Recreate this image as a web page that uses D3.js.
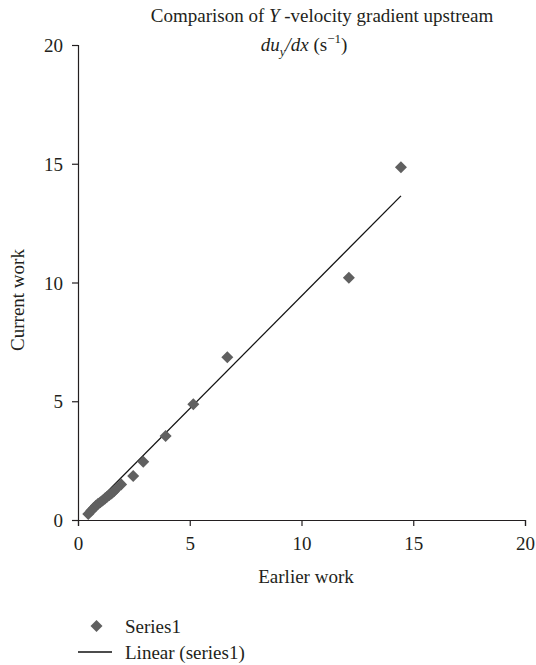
<!DOCTYPE html>
<html><head><meta charset="utf-8">
<script src="https://cdn.jsdelivr.net/npm/d3@7"></script>
<style>
body{margin:0;background:#fff;}
text{font-family:"Liberation Serif","Times New Roman",serif;fill:#231f20;}
</style></head>
<body><svg id="c" width="536" height="665"></svg>
<script>
// Data
const earlierWork = [14.45, 12.12, 6.68, 5.16, 3.92, 2.92, 2.47, 1.93, 1.73, 1.6, 1.5, 1.4, 1.3, 1.2, 1.1, 1.0, 0.9, 0.8, 0.7, 0.6, 0.46];
const currentWork = [14.85, 10.2, 6.85, 4.87, 3.54, 2.45, 1.85, 1.5, 1.33, 1.2, 1.12, 1.05, 0.98, 0.9, 0.82, 0.75, 0.68, 0.6, 0.5, 0.4, 0.25];
// Linear trendline coefficients
const trendSlope = 0.948;
const trendIntercept = -0.05;
const xTicks = [0, 5, 10, 15, 20];
const yTicks = [0, 5, 10, 15, 20];
const legendLabels = ["Series1", "Linear (series1)"];

const svg = d3.select("#c");
const x = d3.scaleLinear().domain([0, 20]).range([78, 525]);
const y = d3.scaleLinear().domain([0, 20]).range([520, 45]);
const markColor = "#606060";

// Axes
const gx = svg.append("g").attr("transform", `translate(0,${y(0)})`)
  .call(d3.axisBottom(x).tickValues(xTicks).tickSizeOuter(0).tickSize(6));
gx.selectAll("text").attr("y", 30).attr("dy", 0).style("font-size", "19px");
const gy = svg.append("g").attr("transform", `translate(${x(0)},0)`)
  .call(d3.axisLeft(y).tickValues(yTicks).tickSizeOuter(0).tickSize(6));
gy.selectAll("text").attr("x", -15).attr("dy", "0.35em").style("font-size", "19px");
svg.selectAll(".domain, .tick line").attr("stroke", "#231f20").attr("stroke-width", 1.2);
svg.selectAll(".tick text").attr("fill", "#231f20");

// Trendline
const pts = earlierWork.map((v, i) => [v, currentWork[i]]);
const [xmin, xmax] = d3.extent(earlierWork);
svg.append("line")
  .attr("x1", x(xmin)).attr("y1", y(trendSlope * xmin + trendIntercept))
  .attr("x2", x(xmax)).attr("y2", y(trendSlope * xmax + trendIntercept))
  .attr("stroke", "#111").attr("stroke-width", 1.3);

// Points
const sym = d3.symbol().type(d3.symbolDiamond2).size(92);
svg.append("g").selectAll("path").data(pts).join("path")
  .attr("d", sym)
  .attr("transform", d => `translate(${x(d[0])},${y(d[1])})`)
  .attr("fill", markColor);

// Title
const t1 = svg.append("text").attr("x", 322).attr("y", 22).attr("text-anchor", "middle").style("font-size", "19px");
t1.append("tspan").text("Comparison of ");
t1.append("tspan").attr("font-style", "italic").text("Y");
t1.append("tspan").text(" -velocity gradient upstream");
const t2 = svg.append("text").attr("x", 304).attr("y", 51).attr("text-anchor", "middle").style("font-size", "19px");
t2.append("tspan").attr("font-style", "italic").text("du");
t2.append("tspan").attr("font-style", "italic").attr("dy", 5).style("font-size", "13px").text("y");
t2.append("tspan").attr("font-style", "italic").attr("dy", -5).text("/dx");
t2.append("tspan").text(" (s");
t2.append("tspan").attr("dy", -8).style("font-size", "13px").text("−1");
t2.append("tspan").attr("dy", 8).text(")");

// Axis titles
svg.append("text").attr("x", 306).attr("y", 583).attr("text-anchor", "middle").style("font-size", "19px").text("Earlier work");
svg.append("text").attr("transform", "translate(24,300) rotate(-90)").attr("text-anchor", "middle").style("font-size", "19px").text("Current work");

// Legend
const lg = svg.append("g");
lg.append("path").attr("d", sym).attr("transform", `translate(96.5,626)`).attr("fill", markColor);
lg.append("text").attr("x", 125).attr("y", 633).style("font-size", "19px").text(legendLabels[0]);
lg.append("line").attr("x1", 78).attr("x2", 112).attr("y1", 652).attr("y2", 652).attr("stroke", "#111").attr("stroke-width", 1.3);
lg.append("text").attr("x", 125).attr("y", 659).style("font-size", "19px").text(legendLabels[1]);
</script></body></html>
